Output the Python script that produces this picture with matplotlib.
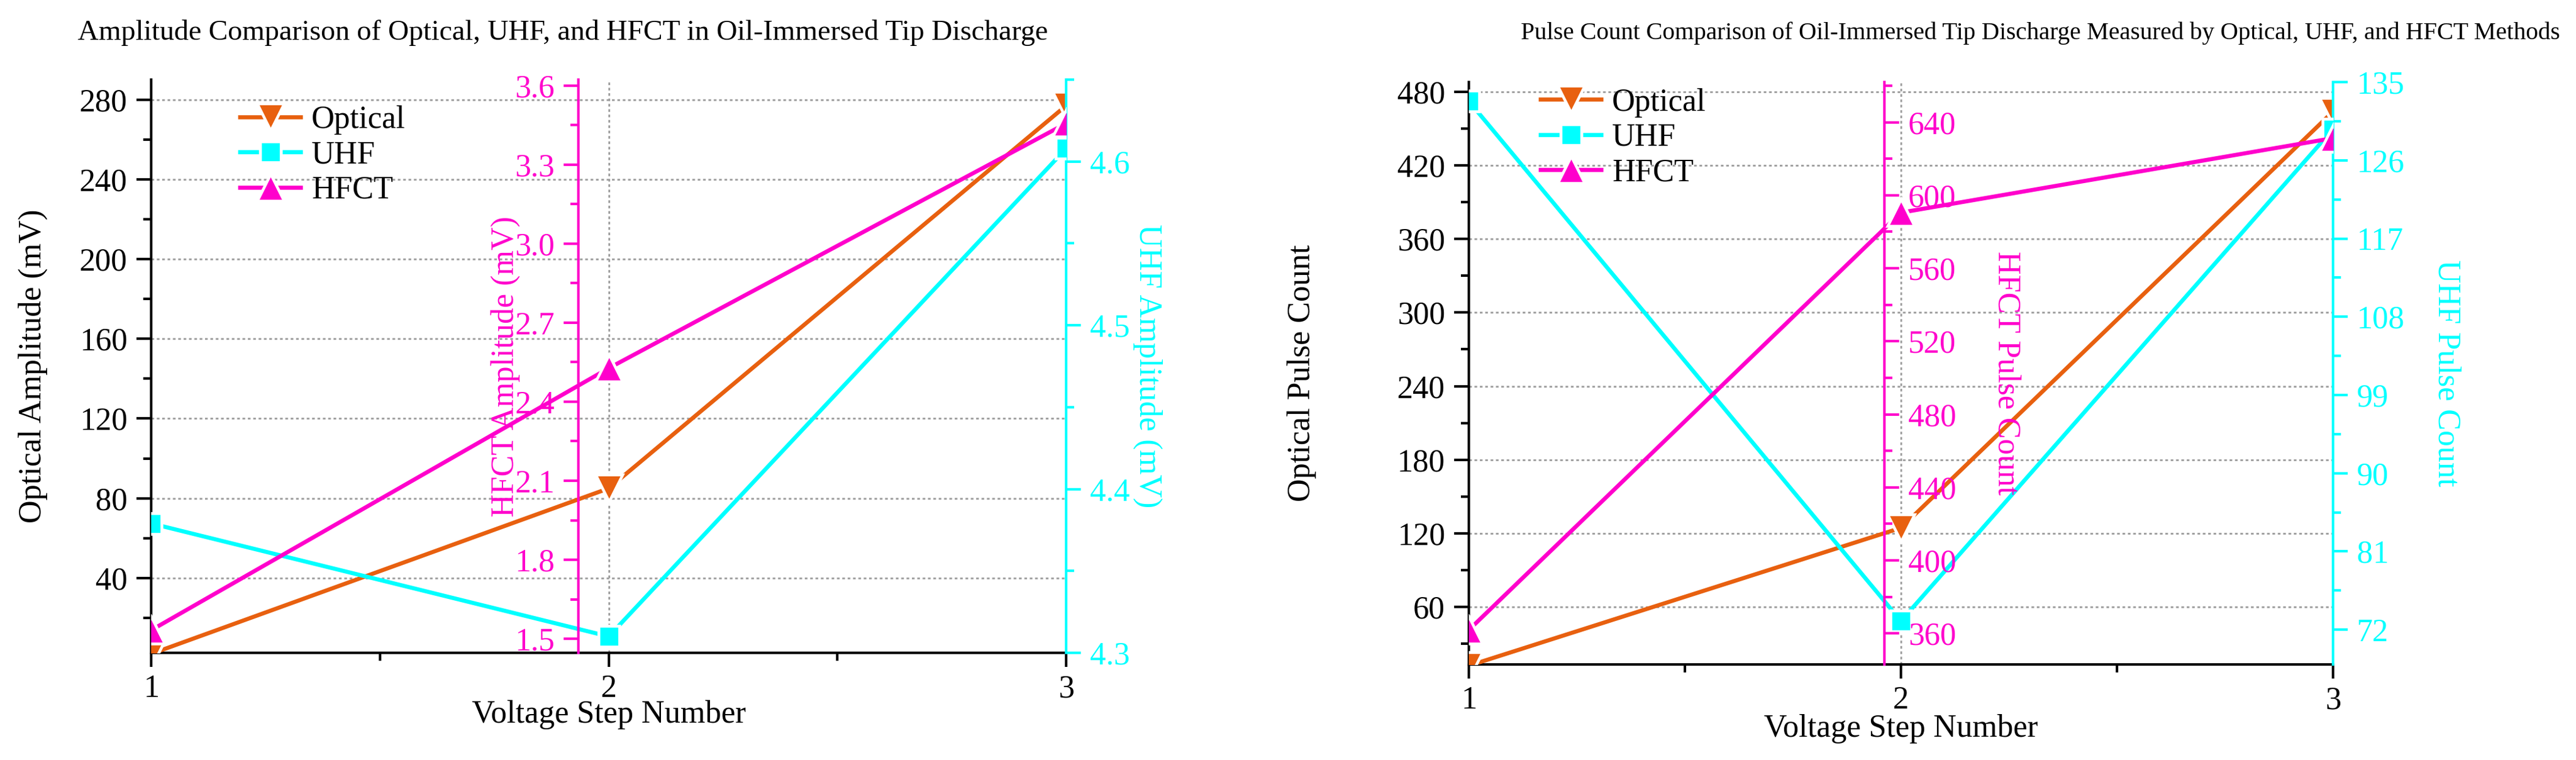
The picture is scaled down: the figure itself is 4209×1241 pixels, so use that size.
import numpy as np
import matplotlib
matplotlib.use('Agg')
from matplotlib import pyplot as plt
from matplotlib.ticker import MultipleLocator, AutoMinorLocator, FormatStrFormatter

plt.rcParams['font.family'] = 'serif'
plt.rcParams['font.serif'] = ['Liberation Serif', 'DejaVu Serif']
plt.rcParams['mathtext.fontset'] = 'stix'

# データ
steps = [1, 2, 3]
amp_optical = [2.0, 85.0, 277.0]
amp_uhf = [4.379, 4.310, 4.608]
amp_hfct = [1.533, 2.527, 3.456]
cnt_optical = [12.0, 124.4, 464.0]
cnt_uhf = [132.8, 73.0, 129.6]
cnt_hfct = [361.9, 590.5, 631.3]

C_OPT = '#E8600F'
C_UHF = '#00FFFF'
C_HFCT = '#FF00CC'
FS = 12.5


def style_axis(a, color, side):
    a.tick_params(axis='y', which='both', direction='out', colors=color,
                  labelsize=FS, width=1.0)
    a.tick_params(axis='y', which='major', length=5.8)
    a.tick_params(axis='y', which='minor', length=3.2)
    a.yaxis.set_ticks_position(side)
    a.yaxis.set_label_position(side)
    a.yaxis.label.set_color(color)


def draw_panel(rect, opt, uhf, hfct, lims, steps_major, fmts, labels, hfct_pos, hfct_side,
               label_x, xlabel_y, leg_anchor):
    ax = fig.add_axes(rect)
    ax_u = ax.twinx()
    ax_h = ax.twinx()

    common = dict(lw=1.6, markeredgecolor='white', markeredgewidth=1.1, zorder=3)
    l1, = ax.plot(steps, opt, color=C_OPT, marker='v', ms=10.5, label='Optical', **common)
    l2, = ax_u.plot(steps, uhf, color=C_UHF, marker='s', ms=8, label='UHF', **common)
    l3, = ax_h.plot(steps, hfct, color=C_HFCT, marker='^', ms=10.5, label='HFCT', **common)

    ax.set_xlim(1, 3)
    ax.set_ylim(*lims[0])
    ax_u.set_ylim(*lims[1])
    ax_h.set_ylim(*lims[2])

    for a, st, f in zip([ax, ax_u, ax_h], steps_major, fmts):
        a.yaxis.set_major_locator(MultipleLocator(st))
        a.yaxis.set_minor_locator(AutoMinorLocator(2))
        a.yaxis.set_major_formatter(FormatStrFormatter(f))

    # 主軸
    ax.xaxis.set_major_locator(MultipleLocator(1))
    ax.xaxis.set_minor_locator(MultipleLocator(0.5))
    ax.tick_params(axis='x', which='both', direction='out', labelsize=FS, width=1.0, pad=3)
    ax.tick_params(axis='x', which='major', length=5.5)
    ax.tick_params(axis='x', which='minor', length=3.2)
    style_axis(ax, 'black', 'left')
    ax.yaxis.label.set_color('black')
    for s in ['top', 'right']:
        ax.spines[s].set_visible(False)
    ax.spines['left'].set_linewidth(1.0)
    ax.spines['bottom'].set_linewidth(1.0)
    ax.grid(True, which='major', axis='both', color='#a0a0a0', linestyle=(0, (1.5, 1.5)), lw=0.7)

    # UHF 軸
    style_axis(ax_u, C_UHF, 'right')
    for s in ['top', 'left', 'bottom']:
        ax_u.spines[s].set_visible(False)
    ax_u.spines['right'].set_color(C_UHF)
    ax_u.spines['right'].set_linewidth(1.0)

    # HFCT 軸
    for s in ['top', 'left', 'right', 'bottom']:
        ax_h.spines[s].set_visible(False)
    ax_h.spines[hfct_side].set_visible(True)
    ax_h.spines[hfct_side].set_position(('axes', hfct_pos))
    ax_h.spines[hfct_side].set_color(C_HFCT)
    ax_h.spines[hfct_side].set_linewidth(1.0)
    style_axis(ax_h, C_HFCT, hfct_side)

    ax.set_ylabel(labels[0], fontsize=FS)
    ax.yaxis.set_label_coords(label_x[0], 0.5)
    ax_h.set_ylabel(labels[1], fontsize=FS, rotation=90 if hfct_side == 'left' else 270,
                    va='center')
    ax_h.yaxis.set_label_coords(label_x[1], 0.5)
    ax_u.set_ylabel(labels[2], fontsize=FS, rotation=270, va='center')
    ax_u.yaxis.set_label_coords(label_x[2], 0.5)
    ax.yaxis.label.set_va('center')

    ax.set_xlabel('Voltage Step Number', fontsize=FS, va='center')
    ax.xaxis.set_label_coords(0.5, xlabel_y)

    ax_h.legend(handles=[l1, l2, l3], loc='upper left', bbox_to_anchor=leg_anchor,
                frameon=False, prop={'family': 'Liberation Serif', 'size': FS},
                handlelength=1.9, handletextpad=0.35,
                labelspacing=0.18, borderpad=0, borderaxespad=0)
    return ax


fig = plt.figure(figsize=(4209 / 300, 1241 / 300), dpi=300)

draw_panel([0.0587, 0.1410, 0.3552, 0.7542], amp_optical, amp_uhf, amp_hfct,
           [(2.5, 290), (4.3, 4.65), (1.447, 3.622)], [40, 0.1, 0.3], ['%d', '%.1f', '%.1f'],
           ['Optical Amplitude (mV)', 'HFCT Amplitude (mV)', 'UHF Amplitude (mV)'],
           0.467, 'left', [-0.129, 0.387, 1.089], -0.108, (0.097, 0.955))

draw_panel([0.5702, 0.1257, 0.3355, 0.7663], cnt_optical, cnt_uhf, cnt_hfct,
           [(13, 488), (68, 135), (343, 662)], [60, 9, 40], ['%d', '%d', '%d'],
           ['Optical Pulse Count', 'HFCT Pulse Count', 'UHF Pulse Count'],
           0.481, 'right', [-0.193, 0.622, 1.131], -0.110, (0.083, 0.99))

fig.text(0.2186, 0.9565, 'Amplitude Comparison of Optical, UHF, and HFCT in Oil-Immersed Tip Discharge',
         ha='center', va='center', fontsize=11.3)
fig.text(0.7921, 0.9565, 'Pulse Count Comparison of Oil-Immersed Tip Discharge Measured by Optical, UHF, and HFCT Methods',
         ha='center', va='center', fontsize=9.65)

fig.savefig('out.png', dpi=300)
